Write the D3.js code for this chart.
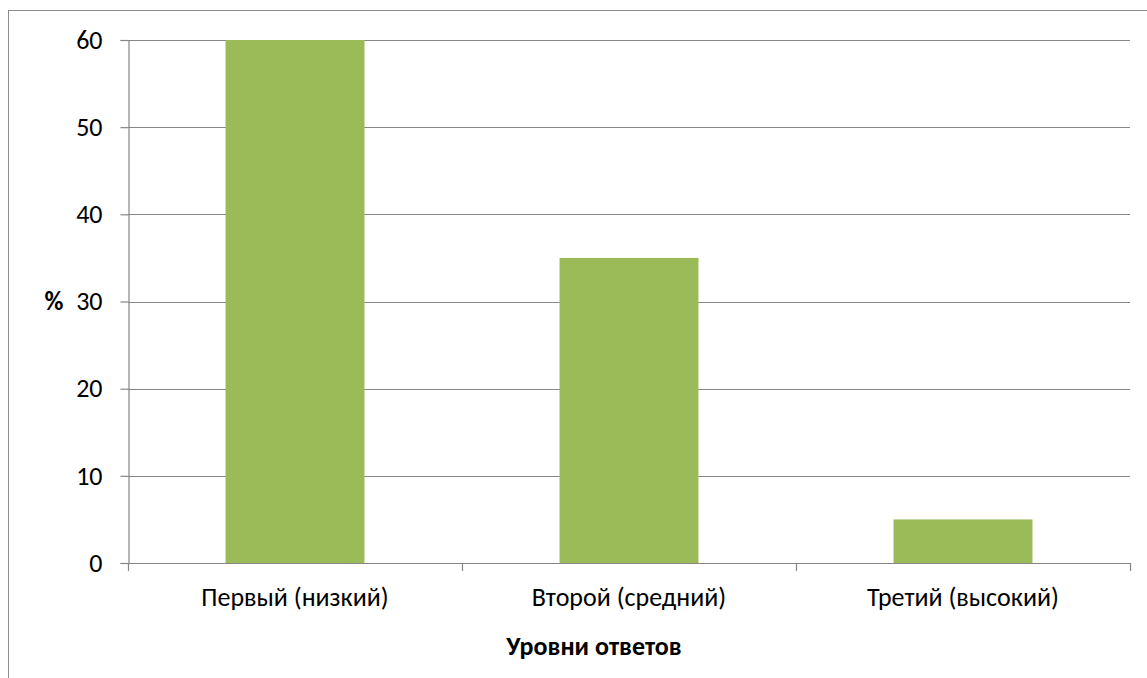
<!DOCTYPE html>
<html>
<head>
<meta charset="utf-8">
<script src="https://cdn.jsdelivr.net/npm/d3@7"></script>
<style>
body { margin: 0; background: #fff; }
svg { display: block; }
svg text { font-family: Carlito, "Noto Sans", "Open Sans", sans-serif; }
</style>
</head>
<body>
<div id="chart"></div>
<script>
// data
const categories = ["Первый (низкий)", "Второй (средний)", "Третий (высокий)"];
const values = [60, 35, 5];
const yTicks = [0, 10, 20, 30, 40, 50, 60];
const yTitle = "%";
const xTitle = "Уровни ответов";

const width = 1147, height = 678;
const plot = {left: 128, right: 1130, top: 40, bottom: 563};
const fs = "26px";

let svg = d3.select("#chart")
	.append("svg")
	.attr("width", width)
	.attr("height", height);

// outer frame
svg.append("rect")
	.attr("x", 8.5).attr("y", 10.5)
	.attr("width", width + 10).attr("height", height + 10)
	.attr("fill", "none")
	.attr("stroke", "#8c8c8c")
	.attr("stroke-width", 1);

let x = d3.scaleBand()
	.domain(categories)
	.range([plot.left, plot.right])
	.paddingInner(0.584)
	.paddingOuter(0.292);

let y = d3.scaleLinear()
	.domain([0, 60])
	.range([plot.bottom, plot.top]);

// gridlines
svg.append("g")
	.selectAll("line")
	.data(yTicks.filter(d => d > 0))
	.enter()
	.append("line")
	.attr("x1", plot.left).attr("x2", plot.right)
	.attr("y1", d => Math.round(y(d)) + 0.5)
	.attr("y2", d => Math.round(y(d)) + 0.5)
	.attr("stroke", "#868686")
	.attr("stroke-width", 1.2);

// bars
svg.append("g")
	.selectAll("rect")
	.data(values)
	.enter()
	.append("rect")
	.attr("x", (d, i) => x(categories[i]))
	.attr("y", d => y(d))
	.attr("width", x.bandwidth())
	.attr("height", d => plot.bottom - y(d))
	.attr("fill", "#9bbb59");

// y axis
let yAxis = svg.append("g")
	.attr("transform", `translate(${plot.left + 0.5}, 0)`)
	.call(d3.axisLeft(y).tickValues(yTicks).tickSize(8).tickPadding(18));
yAxis.attr("font-family", null);
yAxis.select(".domain").attr("stroke", "#868686").attr("stroke-width", 1.2);
yAxis.selectAll(".tick line").attr("stroke", "#868686").attr("stroke-width", 1.2);
yAxis.selectAll(".tick text")
	.attr("fill", "#000")
	.style("font-size", fs);

// x axis with boundary ticks
let xAxisG = svg.append("g");
xAxisG.append("line")
	.attr("x1", plot.left).attr("x2", plot.right)
	.attr("y1", plot.bottom + 0.5).attr("y2", plot.bottom + 0.5)
	.attr("stroke", "#868686")
	.attr("stroke-width", 1.2);
let bounds = categories.map(c => x(c) - x.step() * x.paddingOuter());
bounds.push(plot.right);
xAxisG.selectAll(".bt")
	.data(bounds)
	.enter()
	.append("line")
	.attr("x1", d => Math.round(d) + 0.5).attr("x2", d => Math.round(d) + 0.5)
	.attr("y1", plot.bottom).attr("y2", plot.bottom + 8)
	.attr("stroke", "#868686")
	.attr("stroke-width", 1.2);
xAxisG.selectAll(".cl")
	.data(categories)
	.enter()
	.append("text")
	.attr("x", d => x(d) + x.bandwidth() / 2)
	.attr("y", 606)
	.attr("text-anchor", "middle")
	.style("font-size", fs)
	.text(d => d);

// titles
svg.append("text")
	.attr("x", 594)
	.attr("y", 655)
	.attr("text-anchor", "middle")
	.style("font-size", fs)
	.style("font-weight", "bold")
	.text(xTitle);

svg.append("text")
	.attr("x", 54)
	.attr("y", 310)
	.attr("text-anchor", "middle")
	.style("font-size", fs)
	.style("font-weight", "bold")
	.text(yTitle);
</script>
</body>
</html>
